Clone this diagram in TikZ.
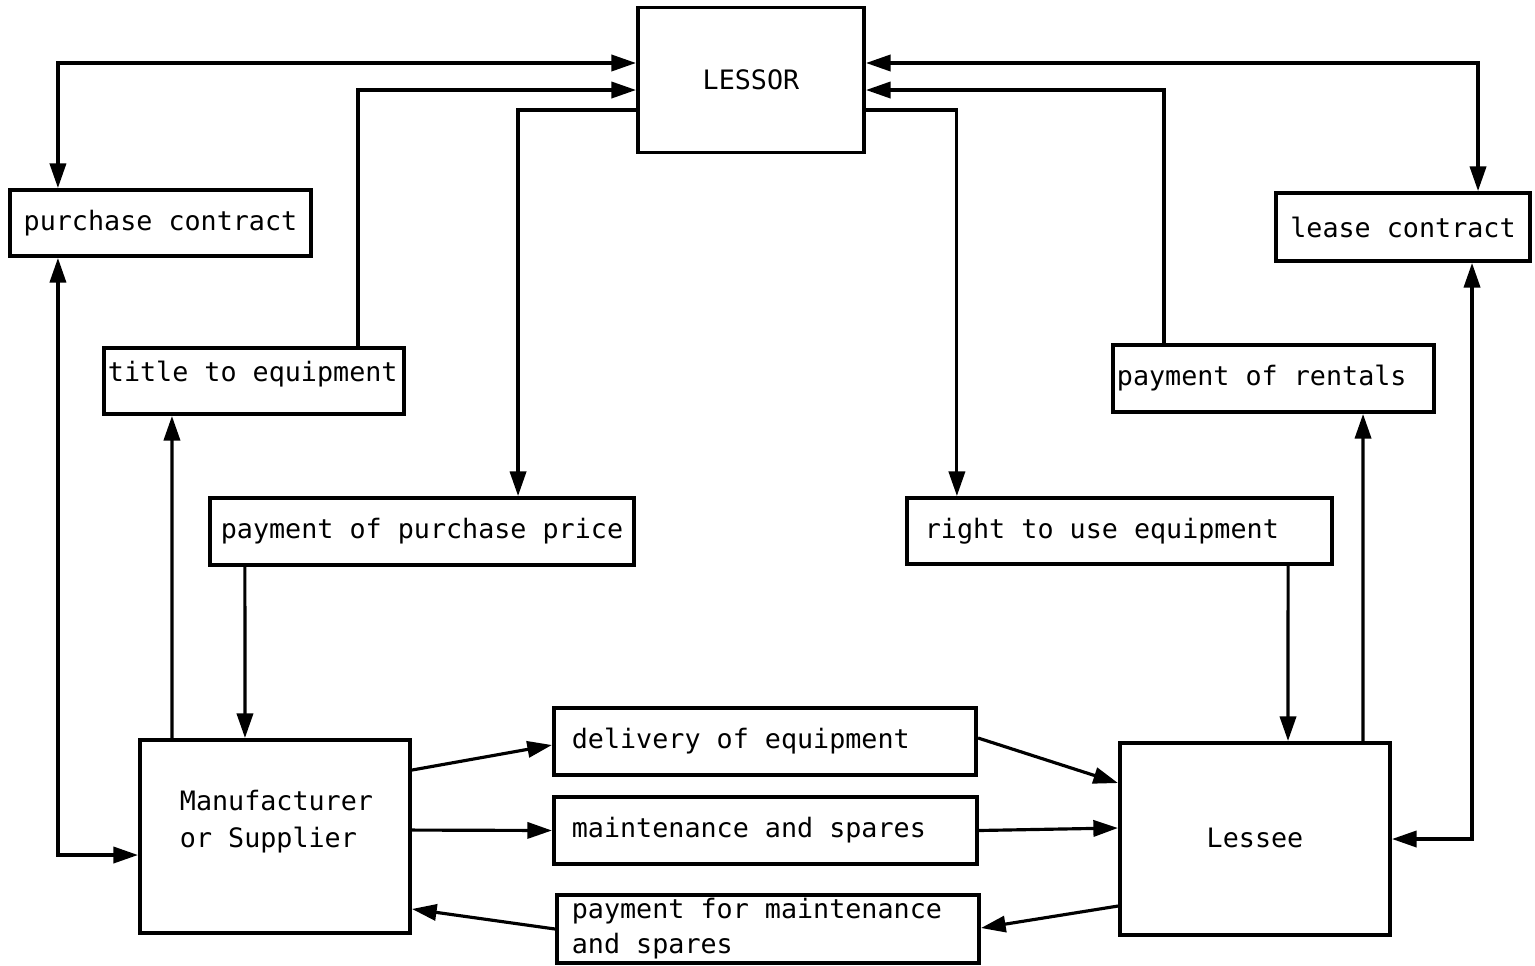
\documentclass[tikz,border=0pt]{standalone}
\usepackage{fontspec}
\setmonofont{DejaVu Sans Mono}
\usepackage{tikz}
\usetikzlibrary{arrows.meta,positioning,calc}
\newcommand{\boxfont}{\ttfamily\fontsize{7.6}{10}\selectfont}
\tikzset{
  box/.style   ={rectangle,draw,line width=1.1pt,inner ysep=0pt,
                 inner xsep=2pt,align=center,font=\boxfont},
  boxl/.style  ={box,align=flush left},
  flow/.style  ={-{Triangle[length=7pt,width=4.6pt]},line width=0.9pt},
  flowb/.style ={{Triangle[length=7pt,width=4.6pt]}-{Triangle[length=7pt,width=4.6pt]},
                 line width=0.9pt},
}

\begin{document}
\begin{tikzpicture}[x=0.01cm,y=-0.01cm]
  \useasboundingbox (0,0) rectangle (1535,966);
  \node[box,minimum width=2.26cm,minimum height=1.45cm] (lessor) at (751,80) {LESSOR};
  \node[box,minimum width=3.01cm,minimum height=0.66cm] (pcontract) at (160.5,223) {purchase contract};
  \node[box,minimum width=2.54cm,minimum height=0.68cm] (lcontract) at (1403,227) {lease contract};
  \node[boxl,inner xsep=0.04cm,text width=2.92cm,minimum height=0.66cm,text depth=0.19cm]
                                    (title) at (254,381) {title to equipment};
  \node[boxl,inner xsep=0.04cm,text width=3.13cm,minimum height=0.67cm]
                                    (rentals) at (1273.5,378.5) {payment of rentals};
  \node[box,minimum width=4.24cm,minimum height=0.67cm] (pprice) at (422,531.5) {payment of purchase price};
  \node[boxl,inner xsep=0.4cm,text width=1.90cm,minimum height=1.93cm,text depth=0.72cm,
        font=\ttfamily\fontsize{7.6}{10.5}\selectfont]
                                    (maker) at (275,836.5) {Manufacturer\\or Supplier};
  \node[boxl,inner xsep=0.18cm,text width=3.89cm,minimum height=0.66cm]
                                    (rightuse) at (1119.5,531) {right to use equipment};
  \node[box,minimum width=2.70cm,minimum height=1.92cm,text depth=0.02cm] (lessee) at (1255,839) {Lessee};
  \node[boxl,inner xsep=0.18cm,text width=3.86cm,minimum height=0.67cm]
                                    (delivery) at (765,741.5) {delivery of equipment};
  \node[boxl,inner xsep=0.18cm,text width=3.87cm,minimum height=0.67cm]
                                    (maint) at (765.5,830.5) {maintenance and spares};
  \node[boxl,inner xsep=0.15cm,text width=3.92cm,minimum height=0.68cm,
        font=\ttfamily\fontsize{7.6}{9.9}\selectfont]
                                    (paymaint) at (768,929) {payment for maintenance\\and spares};

  \draw[flowb]([yshift=0.17cm]lessor.west) -| ([xshift=-1.025cm]pcontract.north);
  \draw[flowb]([xshift=-1.025cm]pcontract.south) |- ([yshift=-0.185cm]maker.west);
  \draw[flow]([xshift=1.04cm]title.north) |- ([yshift=-0.10cm]lessor.west);
  \draw[flow]([yshift=-0.30cm]lessor.west) -| ([xshift=0.96cm]pprice.north);
  \draw[flow]([xshift=-1.77cm]pprice.south) -- ([xshift=-0.30cm]maker.north);
  \draw[flow]([xshift=-1.03cm]maker.north) -- ([xshift=-0.82cm]title.south);
  \draw[flowb]([yshift=0.17cm]lessor.east) -| ([xshift=0.75cm]lcontract.north);
  \draw[flow]([xshift=-1.095cm]rentals.north) |- ([yshift=-0.10cm]lessor.east);
  \draw[flow]([yshift=-0.30cm]lessor.east) -| ([xshift=-1.625cm]rightuse.north);
  \draw[flow]([xshift=1.685cm]rightuse.south) -- ([xshift=0.33cm]lessee.north);
  \draw[flow]([xshift=1.08cm]lessee.north) -- ([xshift=0.895cm]rentals.south);
  \draw[flowb]([xshift=0.69cm]lcontract.south) |- (lessee.east);

  \draw[flow]([yshift=-0.32cm]maker.north east) -- ([yshift=-0.035cm]delivery.west);
  \draw[flow]([yshift=0.035cm]delivery.east) -- ([yshift=-0.42cm]lessee.north west);
  \draw[flow]([yshift=-0.92cm]maker.north east) -- (maint.west);
  \draw[flow](maint.east) -- ([yshift=0.11cm]lessee.west);
  \draw[flow]([yshift=-0.67cm]lessee.west) -- ([yshift=0.01cm]paymaint.east);
  \draw[flow](paymaint.west) -- ([yshift=0.26cm]maker.south east);
\end{tikzpicture}
\end{document}
